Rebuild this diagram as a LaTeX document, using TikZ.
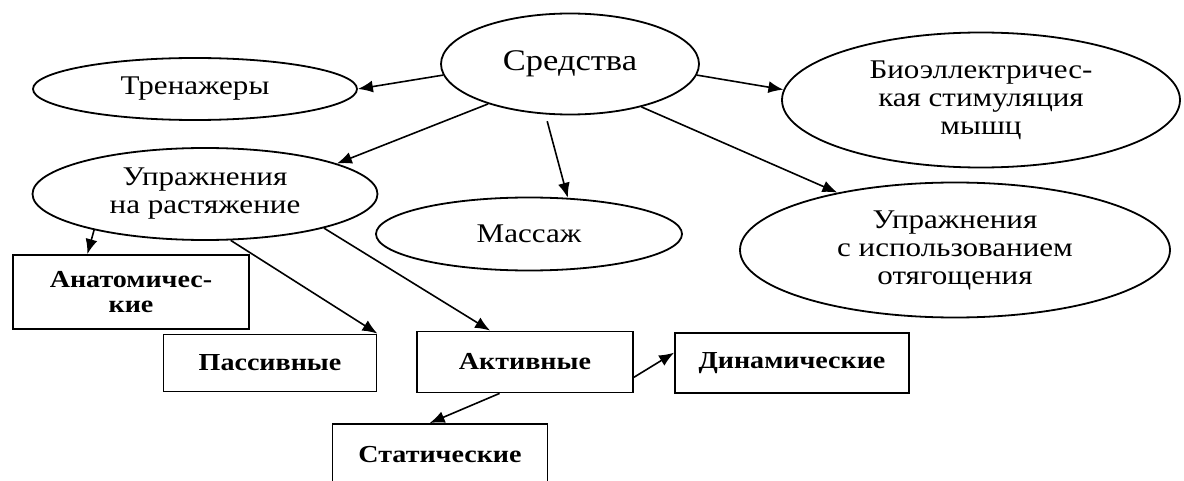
\documentclass[tikz,border=0pt]{standalone}
\usepackage{fontspec}
\setmainfont{Liberation Serif}[FakeStretch=1.15]
\usetikzlibrary{arrows.meta,shapes.geometric}
\tikzset{
  oval/.style={ellipse, draw, line width=0.9pt, align=center, inner sep=0pt,
               font=\fontsize{13.5}{14}\selectfont},
  box/.style={rectangle, draw, line width=0.9pt, align=center, inner sep=0pt,
              font=\fontsize{12.2}{12.6}\selectfont\bfseries},
  flow/.style={-{Latex[length=7.5pt,width=6pt]}, line width=0.8pt},
}

\begin{document}
\begin{tikzpicture}[x=0.5pt, y=-0.5pt]
  \useasboundingbox (0,0) rectangle (1184,481);
  \node[oval, minimum width=129pt, minimum height=50.5pt,
        font=\fontsize{15}{16}\selectfont] (sred) at (570,64) {Средства};
  \node[oval, minimum width=162pt, minimum height=31pt] (tren) at (195,89) {Тренажеры};
  \node[oval, minimum width=199pt, minimum height=67.5pt] (bio) at (981,100)
       {Биоэллектричес-\\кая стимуляция\\мышц};
  \node[oval, minimum width=172.5pt, minimum height=46pt] (upr) at (205,194)
       {Упражнения\\на растяжение};
  \node[oval, minimum width=153pt, minimum height=36.5pt] (mass) at (529,234) {Массаж};
  \node[oval, minimum width=215pt, minimum height=67.5pt] (ves) at (955,250)
       {Упражнения\\с использованием\\отягощения};

  \node[box, minimum width=118pt, minimum height=37pt] (anat) at (131,292)
       {Анатомичес-\\кие};
  \node[box, minimum width=106.5pt, minimum height=28.5pt] (pass) at (270,363) {Пассивные};
  \node[box, minimum width=108pt, minimum height=30.5pt] (akt) at (525,362) {Активные};
  \node[box, minimum width=117pt, minimum height=30pt] (dyn) at (792,363) {Динамические};
  \node[box, minimum width=107.5pt, minimum height=31pt] (stat) at (440,455) {Статические};

  \draw[flow] (sred.185) -- (tren.east);
  \draw[flow] (sred.-5) -- (bio.177);
  \draw[flow] (sred.206) -- (upr.13);
  \draw[flow, shorten <=3.5pt] (sred.244) -- (mass.43);
  \draw[flow] (sred.-31) -- (ves.154);
  \draw[flow] (upr.198) -- (anat.139);
  \draw[flow] (upr.-61) -- (pass.north east);
  \draw[flow] (upr.-16) -- (akt.138);
  \draw[flow] (akt.-8) -- (dyn.175);
  \draw[flow] (akt.231) -- (stat.108);
\end{tikzpicture}
\end{document}
